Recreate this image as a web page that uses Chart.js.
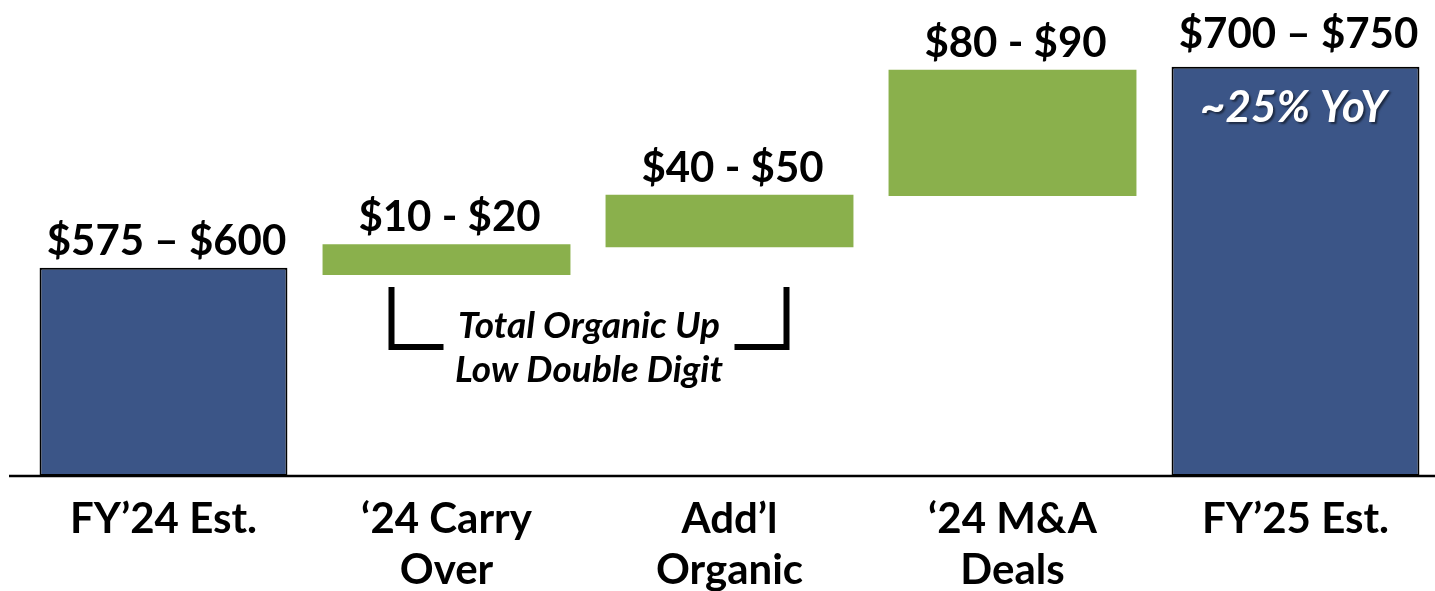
<!DOCTYPE html>
<html>
<head>
<meta charset="utf-8">
<script src="https://cdn.jsdelivr.net/npm/chart.js@4.4.1/dist/chart.umd.min.js"></script>
<style>
  html, body { margin: 0; padding: 0; background: #fff; overflow: hidden; }
  #wrap { width: 1437px; height: 591px; }
</style>
</head>
<body>
<div id="wrap"><canvas id="bridgeChart"></canvas></div>
<script>
// bridge values ($M)
const categories = [["FY’24 Est."], ["‘24 Carry", "Over"], ["Add’l", "Organic"], ["‘24 M&A", "Deals"], ["FY’25 Est."]];
const barLows = [445, 582.5, 601.5, 636.5, 445];
const barHighs = [587.5, 603.5, 637.5, 723, 725];
const rangeLabels = ["$575 – $600", "$10 - $20", "$40 - $50", "$80 - $90", "$700 – $750"];
const barKinds = ["total", "step", "step", "step", "total"];
const noteLines = ["Total Organic Up", "Low Double Digit"];
const growthNote = "~25% YoY";

const BLUE = "#3B5587";
const GREEN = "#8AB04C";
const FONT = "Lato";

const annotations = {
  id: "annotations",
  afterDatasetsDraw(chart) {
    const ctx = chart.ctx;
    const bars = chart.getDatasetMeta(0).data;
    const area = chart.chartArea;
    ctx.save();

    // baseline
    ctx.strokeStyle = "#000";
    ctx.lineWidth = 2.5;
    ctx.beginPath();
    ctx.moveTo(9, area.bottom);
    ctx.lineTo(chart.width, area.bottom);
    ctx.stroke();

    // range labels above bars
    ctx.fillStyle = "#000";
    ctx.textAlign = "center";
    ctx.textBaseline = "alphabetic";
    ctx.font = "bold 42px " + FONT;
    bars.forEach((b, i) => {
      const gap = barKinds[i] === "total" && i > 0 ? 19 : 13;
      ctx.fillText(rangeLabels[i], b.x + 3, b.y - gap);
    });

    // bracket under the organic steps
    const left = bars[1], right = bars[2];
    const top = left.base + 12, bot = left.base + 72;
    ctx.lineWidth = 6;
    ctx.lineCap = "butt";
    ctx.beginPath();
    ctx.moveTo(left.x - 55, top);
    ctx.lineTo(left.x - 55, bot);
    ctx.lineTo(left.x - 3, bot);
    ctx.stroke();
    ctx.beginPath();
    ctx.moveTo(right.x + 57, top);
    ctx.lineTo(right.x + 57, bot);
    ctx.lineTo(right.x + 5, bot);
    ctx.stroke();

    const mid = (left.x - 55 + right.x + 57) / 2;
    ctx.font = "italic bold 37px " + FONT;
    ctx.fillText(noteLines[0], mid, top + 51);
    ctx.fillText(noteLines[1], mid, top + 95);

    // growth note inside final bar
    const last = bars[bars.length - 1];
    ctx.font = "italic bold 44px " + FONT;
    ctx.fillStyle = "#fff";
    ctx.shadowColor = "rgba(0,0,0,0.5)";
    ctx.shadowOffsetX = 2;
    ctx.shadowOffsetY = 2;
    ctx.shadowBlur = 2;
    ctx.fillText(growthNote, last.x - 2, last.y + 55);
    ctx.restore();
  }
};

new Chart(document.getElementById("bridgeChart"), {
  type: "bar",
  data: {
    labels: categories,
    datasets: [{
      data: barLows.map((lo, i) => [lo, barHighs[i]]),
      backgroundColor: barKinds.map(k => k === "total" ? BLUE : GREEN),
      borderColor: "#000",
      borderWidth: barKinds.map(k => k === "total" ? 2 : 0),
      borderSkipped: false,
      barPercentage: 0.876,
      categoryPercentage: 1
    }]
  },
  options: {
    animation: false,
    responsive: true,
    maintainAspectRatio: false,
    layout: { padding: { left: 22, right: 0, top: 1, bottom: 0 } },
    plugins: { legend: { display: false }, tooltip: { enabled: false } },
    scales: {
      x: {
        grid: { display: false },
        border: { display: false },
        ticks: {
          color: "#000",
          font: { family: FONT, size: 42, weight: "bold", lineHeight: 1.22 },
          padding: 10,
          maxRotation: 0,
          autoSkip: false
        },
        afterFit(scale) { scale.height = 115; }
      },
      y: { display: false, min: 445, max: 770 }
    }
  },
  plugins: [annotations]
});
</script>
</body>
</html>
